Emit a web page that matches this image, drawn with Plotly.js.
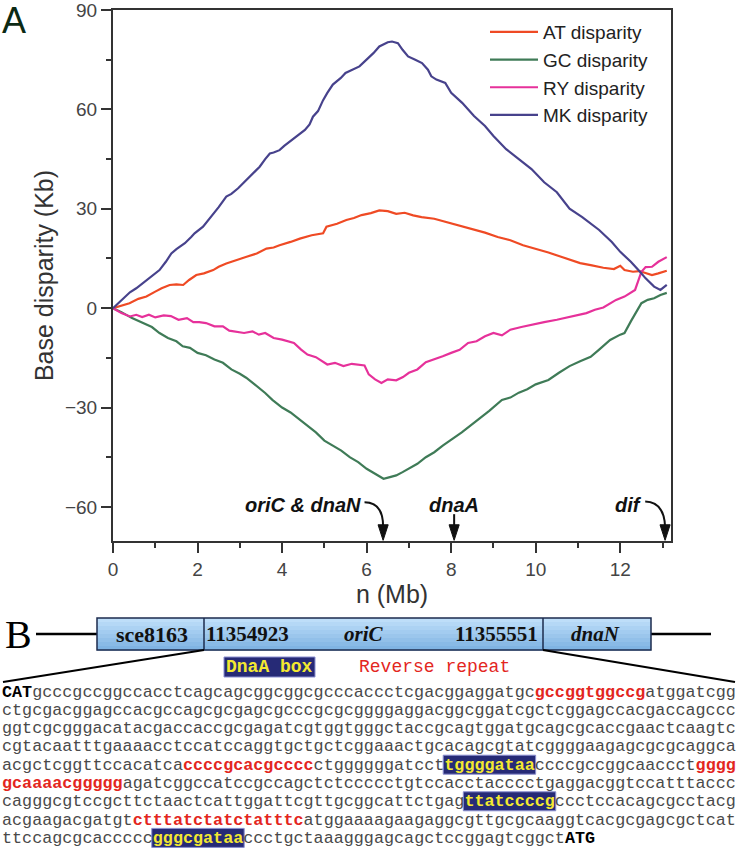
<!DOCTYPE html>
<html>
<head>
<meta charset="utf-8">
<script src="https://cdn.plot.ly/plotly-3.0.1.min.js"></script>
<style>
  html, body { margin: 0; padding: 0; background: #fff; }
  #chart { width: 738px; height: 853px; }
</style>
</head>
<body>
<div id="chart"></div>
<script>
// ---------------- Panel A data ----------------
const seriesNames = ["AT disparity", "GC disparity", "RY disparity", "MK disparity"];

const atX = [0,0.2,0.39,0.6,0.79,1.0,1.15,1.34,1.5,1.66,1.8,1.97,2.15,2.37,2.5,2.68,2.9,3.16,3.4,3.63,3.8,3.94,4.2,4.42,4.7,4.97,5.05,5.3,5.52,5.7,5.88,6.1,6.3,6.5,6.7,6.9,7.1,7.3,7.6,7.9,8.2,8.5,8.8,9.1,9.4,9.7,10.0,10.3,10.6,10.85,11.05,11.3,11.6,11.85,12.0,12.1,12.3,12.45,12.6,12.75,12.9,13.1];
const atY = [0,0.8,1.5,2.8,3.5,5,6,7,7.2,7,8.5,10,10.5,11.5,12.5,13.5,14.5,15.5,16.5,18,18.3,19,20,21,22,22.6,24.6,25.5,26.6,27.2,28.1,28.7,29.5,29.3,28.5,28.8,28,27.5,27,26,25,24,22.8,21.5,20.5,19,18,16.8,15.5,14.5,13.6,13,12.2,11.8,12.8,11.5,11,11.2,10.5,10,10.5,11.3];

const gcX = [0,0.2,0.45,0.7,0.92,1.1,1.3,1.5,1.65,1.82,2.0,2.2,2.4,2.6,2.8,3.0,3.15,3.35,3.6,3.77,4.0,4.2,4.4,4.6,4.8,5.0,5.2,5.4,5.6,5.8,6.0,6.2,6.4,6.55,6.7,6.85,7.0,7.2,7.4,7.6,7.8,8.0,8.25,8.5,8.7,8.9,9.2,9.4,9.6,9.8,10.0,10.3,10.55,10.8,11.05,11.3,11.5,11.76,12.0,12.1,12.25,12.4,12.5,12.65,12.8,12.95,13.1];
const gcY = [0,-1.2,-3,-4.5,-5.7,-7.5,-9,-10,-11.5,-12,-13.5,-14.2,-15.5,-16.5,-18.5,-19.8,-21,-23,-25.6,-27.7,-30,-31.5,-33.5,-35.5,-37.5,-40,-41.5,-43,-45,-46.5,-48.5,-50,-51.5,-51,-50.5,-49.5,-48.5,-47,-45,-43.5,-41.5,-39.8,-37.5,-35,-33,-31,-27.7,-27,-25.5,-24.5,-23,-21.7,-19.5,-17.5,-16,-14.7,-12.5,-9.6,-8,-7.5,-4,-0.5,1.5,2.5,3,4,4.6];

const ryX = [0,0.2,0.4,0.55,0.69,0.85,1.0,1.2,1.37,1.55,1.75,1.9,2.04,2.2,2.4,2.6,2.75,2.93,3.1,3.3,3.45,3.6,3.8,4.0,4.28,4.45,4.6,4.8,5.07,5.25,5.45,5.65,5.85,5.95,6.05,6.2,6.35,6.5,6.7,6.86,7.0,7.2,7.4,7.6,7.8,8.0,8.2,8.4,8.6,8.8,9.0,9.2,9.4,9.66,9.9,10.2,10.5,10.8,11.05,11.2,11.4,11.6,11.9,12.1,12.35,12.42,12.5,12.6,12.75,12.9,13.1];
const ryY = [0,-1.5,-2.5,-2,-2.7,-2,-2.8,-2.2,-2.4,-3.5,-3,-4.2,-4.2,-4.5,-5.5,-5.5,-6.8,-7.2,-7.5,-7,-8,-7.5,-9,-9.5,-10.5,-12.5,-14,-14.8,-17,-16.5,-17.5,-16.8,-17,-17.3,-20,-21.5,-22.6,-21.5,-21.8,-20.8,-19.5,-18.5,-16.3,-15.5,-14.5,-13.5,-12.6,-10.5,-10,-8.5,-7.5,-8.2,-6.5,-5.7,-5,-4.2,-3.5,-2.7,-2,-1.5,-0.5,0.2,2.5,3.5,5.5,8,11,12.4,12.5,14,15.4];

const mkX = [0,0.2,0.4,0.55,0.7,0.8,0.95,1.1,1.25,1.38,1.5,1.7,1.85,1.93,2.13,2.25,2.37,2.5,2.68,2.8,2.96,3.16,3.3,3.47,3.6,3.71,3.8,3.94,4.05,4.18,4.35,4.54,4.65,4.73,4.85,4.97,5.07,5.2,5.39,5.5,5.83,6.0,6.16,6.3,6.5,6.6,6.74,6.85,6.98,7.15,7.31,7.45,7.53,7.65,7.86,8.0,8.26,8.54,8.8,9.0,9.3,9.6,9.9,10.2,10.5,10.8,11.1,11.5,11.8,12.0,12.25,12.45,12.6,12.8,12.95,13.1];
const mkY = [0,2.5,4.8,6,7.5,8.5,10,11.5,14,16.5,17.8,19.6,21.5,22.6,24.6,26.5,28.1,30.5,33.7,34.5,36.2,38.7,40.5,42.7,45,46.7,47,47.7,49,50.3,52,53.8,55.5,57.8,59.5,62.8,65,67.5,69.5,71,73,75,77,79,80.3,80.5,80,78,76,75,74,72,70,69,68,65,62,58,55,52,48,45,42,38,35,30,27.5,23.6,20,17,14,11.2,9,6.5,5.5,7];

const seriesColors = ["#ef4a24", "#3f7b57", "#e6319a", "#47428c"];

// tick labels
const xTickVals = [0, 2, 4, 6, 8, 10, 12];
const yTickVals = [-60, -30, 0, 30, 60, 90];

// genomic landmarks marked under the curves (Mb)
const siteNames = ["oriC & dnaN", "dnaA", "dif"];
const sitePos = [6.39, 8.07, 13.06];

// ---------------- Panel B content ----------------
const geneBoxLabels = ["sce8163", "11354923", "oriC", "11355551", "dnaN"];
// segment types: n = plain, b = bold codon, r = reverse repeat (red), h = DnaA box (highlight)
const seqLines = [
  [["b","CAT"],["n","gcccgccggccacctcagcagcggcggcgcccaccctcgacggaggatgc"],["r","gccggtggccg"],["n","atggatcgg"]],
  [["n","ctgcgacggagccacgccagcgcgagcgcccgcgcggggaggacggcggatcgctcggagccacgaccagccc"]],
  [["n","ggtcgcgggacatacgaccaccgcgagatcgtggtgggctaccgcagtggatgcagcgcaccgaactcaagtc"]],
  [["n","cgtacaatttgaaaacctccatccaggtgctgctcggaaactgcacagcgtatcggggaagagcgcgcaggca"]],
  [["n","acgctcggttccacatca"],["r","ccccgcacgcccc"],["n","ctggggggatcct"],["h","tggggataa"],["n","ccccgccggcaaccct"],["r","gggg"]],
  [["r","gcaaaacggggg"],["n","agatcggccatccgccagctctccccctgtccacctacccctgaggacggtccatttaccc"]],
  [["n","cagggcgtccgcttctaactcattggattcgttgcggcattctgag"],["h","ttatccccg"],["n","ccctccacagcgcctacg"]],
  [["n","acgaagacgatgt"],["r","ctttatctatctatttc"],["n","atggaaaagaagaggcgttgcgcaaggtcacgcgagcgctcat"]],
  [["n","ttccagcgcaccccc"],["h","gggcgataa"],["n","ccctgctaaagggagcagctccggagtcggct"],["b","ATG"]]
];

// ---------------- helpers ----------------
const W = 738, H = 853;
const M = { l: 113, r: 67, t: 10, b: 312 };
const PW = W - M.l - M.r, PH = H - M.t - M.b;
const PX = px => (px - M.l) / PW;
const PY = py => (H - M.b - py) / PH;
const sans = "Liberation Sans, Arial, sans-serif";
const serif = "Liberation Serif, Times New Roman, serif";
const mono = "Liberation Mono, Courier New, monospace";

const xs = [atX, gcX, ryX, mkX], ys = [atY, gcY, ryY, mkY];
const traces = seriesNames.map((n, i) => ({
  type: "scatter", mode: "lines", name: n, x: xs[i], y: ys[i],
  line: { color: seriesColors[i], width: 2.2 }, hoverinfo: "skip"
}));

const shapes = [];
const annotations = [];

// panel letters
annotations.push({ xref: "paper", yref: "paper", x: PX(0), y: PY(-2), xanchor: "left", yanchor: "top",
  text: "A", showarrow: false, font: { family: sans, size: 36, color: "#0c2a14" } });
annotations.push({ xref: "paper", yref: "paper", x: PX(3), y: PY(634), xanchor: "left", yanchor: "middle",
  text: "B", showarrow: false, font: { family: serif, size: 40, color: "#000" } });

// landmark labels and arrows
const lblY = -59.4;
const arrowFont = { family: sans, size: 20, color: "#111" };
annotations.push({ x: sitePos[0] - 0.47, y: lblY, xanchor: "right", yanchor: "middle", showarrow: false,
  text: "<b><i>" + siteNames[0] + "</i></b>", font: arrowFont });
annotations.push({ x: sitePos[1], y: lblY, xanchor: "center", yanchor: "middle", showarrow: false,
  text: "<b><i>" + siteNames[1] + "</i></b>", font: arrowFont });
annotations.push({ x: sitePos[2] - 0.5, y: lblY, xanchor: "right", yanchor: "middle", showarrow: false,
  text: "<b><i>" + siteNames[2] + "</i></b>", font: arrowFont });

function arrowHead(xc) {
  const hw = 0.12;
  shapes.push({ type: "path", xref: "x", yref: "y", layer: "above",
    path: `M ${xc - hw},-65.4 L ${xc + hw},-65.4 L ${xc},-70.1 Z`,
    fillcolor: "#111", line: { color: "#111", width: 1 } });
}
shapes.push({ type: "path", xref: "x", yref: "y", layer: "above",
  path: `M ${sitePos[0] - 0.44},-58.6 Q ${sitePos[0]},-58.6 ${sitePos[0]},-66`,
  line: { color: "#111", width: 2 } });
arrowHead(sitePos[0]);
shapes.push({ type: "path", xref: "x", yref: "y", layer: "above",
  path: `M ${sitePos[1]},-62.2 L ${sitePos[1]},-66`,
  line: { color: "#111", width: 2 } });
arrowHead(sitePos[1]);
shapes.push({ type: "path", xref: "x", yref: "y", layer: "above",
  path: `M ${sitePos[2] - 0.47},-58.4 Q ${sitePos[2] - 0.02},-58.6 ${sitePos[2]},-66`,
  line: { color: "#111", width: 2 } });
arrowHead(sitePos[2]);

// ---------------- Panel B drawing ----------------
const bx0 = 97, bx1 = 651, by0 = 618, by1 = 650, div1 = 204, div2 = 543;
shapes.push({ type: "line", xref: "paper", yref: "paper", x0: PX(36), x1: PX(bx0), y0: PY(634), y1: PY(634), line: { color: "#000", width: 2.5 } });
shapes.push({ type: "line", xref: "paper", yref: "paper", x0: PX(bx1), x1: PX(711), y0: PY(634), y1: PY(634), line: { color: "#000", width: 2.5 } });
const bandTop = [190, 222, 249], bandBot = [128, 180, 227];
const nb = 8;
for (let i = 0; i < nb; i++) {
  const t = i / (nb - 1);
  const c = bandTop.map((v, k) => Math.round(v + (bandBot[k] - v) * t));
  const y0 = by0 + (by1 - by0) * i / nb, y1 = by0 + (by1 - by0) * (i + 1) / nb;
  shapes.push({ type: "rect", xref: "paper", yref: "paper", x0: PX(bx0), x1: PX(bx1), y0: PY(y0), y1: PY(y1 + 0.5),
    fillcolor: `rgb(${c[0]},${c[1]},${c[2]})`, line: { width: 0 } });
}
shapes.push({ type: "rect", xref: "paper", yref: "paper", x0: PX(bx0), x1: PX(bx1), y0: PY(by0), y1: PY(by1),
  line: { color: "#1d2b4d", width: 1.5 }, fillcolor: "rgba(0,0,0,0)" });
[div1, div2].forEach(d => shapes.push({ type: "line", xref: "paper", yref: "paper", x0: PX(d), x1: PX(d), y0: PY(by0), y1: PY(by1), line: { color: "#1d2b4d", width: 1.5 } }));
shapes.push({ type: "line", xref: "paper", yref: "paper", x0: PX(div1), x1: PX(3), y0: PY(by1), y1: PY(682), line: { color: "#000", width: 2 } });
shapes.push({ type: "line", xref: "paper", yref: "paper", x0: PX(div2), x1: PX(735), y0: PY(by1), y1: PY(682), line: { color: "#000", width: 2 } });

const boxLabelX = [152, 247, 364, 496, 595];
const boxLabelItalic = [false, false, true, false, true];
geneBoxLabels.forEach((t, i) => {
  annotations.push({ xref: "paper", yref: "paper", x: PX(boxLabelX[i]), y: PY(634), xanchor: "center", yanchor: "middle",
    showarrow: false, text: boxLabelItalic[i] ? `<b><i>${t}</i></b>` : `<b>${t}</b>`,
    font: { family: serif, size: i === 0 ? 22 : 21, color: "#111" } });
});

shapes.push({ type: "rect", xref: "paper", yref: "paper", x0: PX(224), x1: PX(315), y0: PY(657), y1: PY(677),
  fillcolor: "#262a76", line: { color: "#8a8fd0", width: 1 } });
annotations.push({ xref: "paper", yref: "paper", x: PX(269.5), y: PY(667), xanchor: "center", yanchor: "middle",
  showarrow: false, text: "<b>DnaA box</b>", font: { family: mono, size: 18, color: "#f3e830" } });
annotations.push({ xref: "paper", yref: "paper", x: PX(357), y: PY(667), xanchor: "left", yanchor: "middle",
  showarrow: false, text: "Reverse repeat", font: { family: mono, size: 18, color: "#e3261e" } });

// sequence lines
const fsSeq = 16.75, cw = fsSeq * 0.6, seqX0 = 2, seqY0 = 692, seqDY = 18.3;
seqLines.forEach((segs, li) => {
  const cy = seqY0 + li * seqDY;
  let idx = 0, html = "";
  segs.forEach(([kind, s]) => {
    if (kind === "n") html += s;
    else if (kind === "b") html += `<b><span style="color:#000">${s}</span></b>`;
    else if (kind === "r") html += `<b><span style="color:#e3261e">${s}</span></b>`;
    else if (kind === "h") {
      html += `<b><span style="color:#f3e830">${s}</span></b>`;
      shapes.push({ type: "rect", xref: "paper", yref: "paper",
        x0: PX(seqX0 + idx * cw - 1), x1: PX(seqX0 + (idx + s.length) * cw + 1),
        y0: PY(cy - 10), y1: PY(cy + 9), fillcolor: "#262a76", line: { color: "#8a8fd0", width: 1 } });
    }
    idx += s.length;
  });
  annotations.push({ xref: "paper", yref: "paper", x: PX(seqX0), y: PY(cy), xanchor: "left", yanchor: "middle",
    showarrow: false, borderpad: 0, borderwidth: 0, text: html, align: "left",
    font: { family: mono, size: fsSeq, color: "#4a4a4a" } });
});

const layout = {
  width: W, height: H,
  margin: M,
  paper_bgcolor: "#fff", plot_bgcolor: "#fff",
  font: { family: sans, color: "#333" },
  showlegend: true,
  legend: { x: PX(485), y: PY(13), xanchor: "left", yanchor: "top", bgcolor: "rgba(0,0,0,0)",
    font: { family: sans, size: 19, color: "#222" }, itemwidth: 48, tracegroupgap: 0 },
  xaxis: {
    range: [0, 13.2], tickmode: "array", tickvals: xTickVals, ticktext: xTickVals.map(String),
    ticks: "outside", ticklen: 10, tickwidth: 2, tickcolor: "#333",
    minor: { dtick: 1, tick0: 0, ticks: "outside", ticklen: 5, tickwidth: 2, tickcolor: "#333", showgrid: false },
    showline: true, linecolor: "#333", linewidth: 2, mirror: true,
    showgrid: false, zeroline: false, ticklabeloverflow: "allow",
    tickfont: { family: sans, size: 19, color: "#444" },
    title: { text: "n (Mb)", font: { family: sans, size: 25, color: "#333" }, standoff: 1 }
  },
  yaxis: {
    range: [-70.3, 90.02], tickmode: "array", tickvals: yTickVals, ticktext: yTickVals.map(v => v < 0 ? "\u2212" + Math.abs(v) : String(v)),
    ticks: "outside", ticklen: 10, tickwidth: 2, tickcolor: "#333",
    minor: { dtick: 15, tick0: 0, ticks: "outside", ticklen: 5, tickwidth: 2, tickcolor: "#333", showgrid: false },
    showline: true, linecolor: "#333", linewidth: 2, mirror: true,
    showgrid: false, zeroline: false, ticklabeloverflow: "allow",
    tickfont: { family: sans, size: 19, color: "#444" },
    title: { text: "Base disparity (Kb)", font: { family: sans, size: 25, color: "#333" }, standoff: 4 }
  },
  shapes: shapes,
  annotations: annotations
};

Plotly.newPlot("chart", traces, layout, { displayModeBar: false, staticPlot: true });
</script>
</body>
</html>
